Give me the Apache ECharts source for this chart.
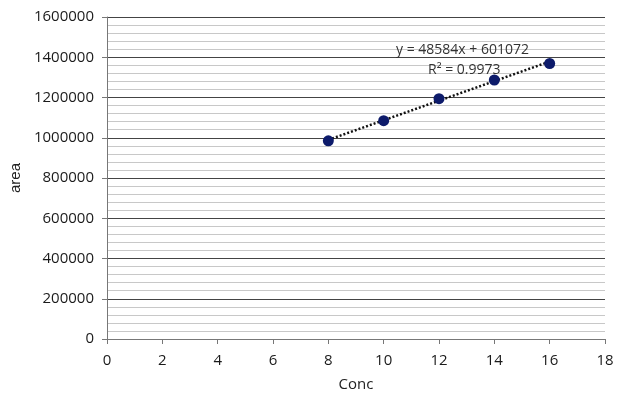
<!DOCTYPE html>
<html>
<head>
<meta charset="utf-8">
<script src="https://cdn.jsdelivr.net/npm/echarts@6/dist/echarts.min.js"></script>
<style>html,body{margin:0;padding:0;background:#fff}#c{width:626px;height:403px}</style>
</head>
<body>
<div id="c"></div>
<script>
var conc = [8, 10, 12, 14, 16];
var area = [985000, 1085000, 1194000, 1287000, 1369000];
var trendSlope = 48584;
var trendIntercept = 601072;
var trendText = 'y = 48584x + 601072';
var r2Text = 'R\u00B2 = 0.9973';

var points = conc.map(function (x, i) { return [x, area[i]]; });
var xStart = conc[0], xEnd = conc[conc.length - 1];
var trend = [[xStart, trendSlope * xStart + trendIntercept], [xEnd, trendSlope * xEnd + trendIntercept]];

var font = 'Open Sans';
var chart = echarts.init(document.getElementById('c'));
chart.setOption({
  animation: false,
  backgroundColor: '#fff',
  grid: { left: 107, right: 21, top: 17, bottom: 64 },
  xAxis: {
    type: 'value', min: 0, max: 18, interval: 2,
    name: 'Conc', nameLocation: 'middle', nameGap: 38,
    nameTextStyle: { fontFamily: font, fontSize: 15, color: '#222' },
    axisLine: { show: true, onZero: false, lineStyle: { color: '#777', width: 1 } },
    axisTick: { show: true, inside: false, length: 5, lineStyle: { color: '#777' } },
    axisLabel: { fontFamily: font, fontSize: 15, color: '#1a1a1a', margin: 14 },
    splitLine: { show: false }
  },
  yAxis: {
    type: 'value', min: 0, max: 1600000, interval: 200000,
    name: 'area', nameLocation: 'middle', nameGap: 84, nameRotate: 90,
    nameTextStyle: { fontFamily: 'Liberation Sans', fontSize: 15, color: '#222' },
    axisLine: { show: true, lineStyle: { color: '#777', width: 1 } },
    axisTick: { show: true, inside: false, length: 5, lineStyle: { color: '#777' } },
    axisLabel: { fontFamily: font, fontSize: 15, color: '#1a1a1a', margin: 13,
      formatter: function (v) { return String(v); } },
    splitLine: { show: true, lineStyle: { color: '#444', width: 1 } },
    minorTick: { show: false, splitNumber: 5 },
    minorSplitLine: { show: true, lineStyle: { color: '#c8c8c8', width: 1 } }
  },
  series: [
    {
      type: 'line', data: trend, showSymbol: false, silent: true,
      lineStyle: { color: '#111', width: 2.5, type: [2, 2] }, z: 2
    },
    {
      type: 'scatter', data: points, symbol: 'circle', symbolSize: 11,
      itemStyle: { color: '#0d1b6b', opacity: 1 }, z: 3
    }
  ],
  graphic: [
    { type: 'text', left: 396, top: 43, z: 10,
      style: { text: trendText, fontFamily: font, fontSize: 14, fill: '#333' } },
    { type: 'text', left: 428, top: 63, z: 10,
      style: { text: r2Text, fontFamily: font, fontSize: 14, fill: '#333' } }
  ]
});
</script>
</body>
</html>
